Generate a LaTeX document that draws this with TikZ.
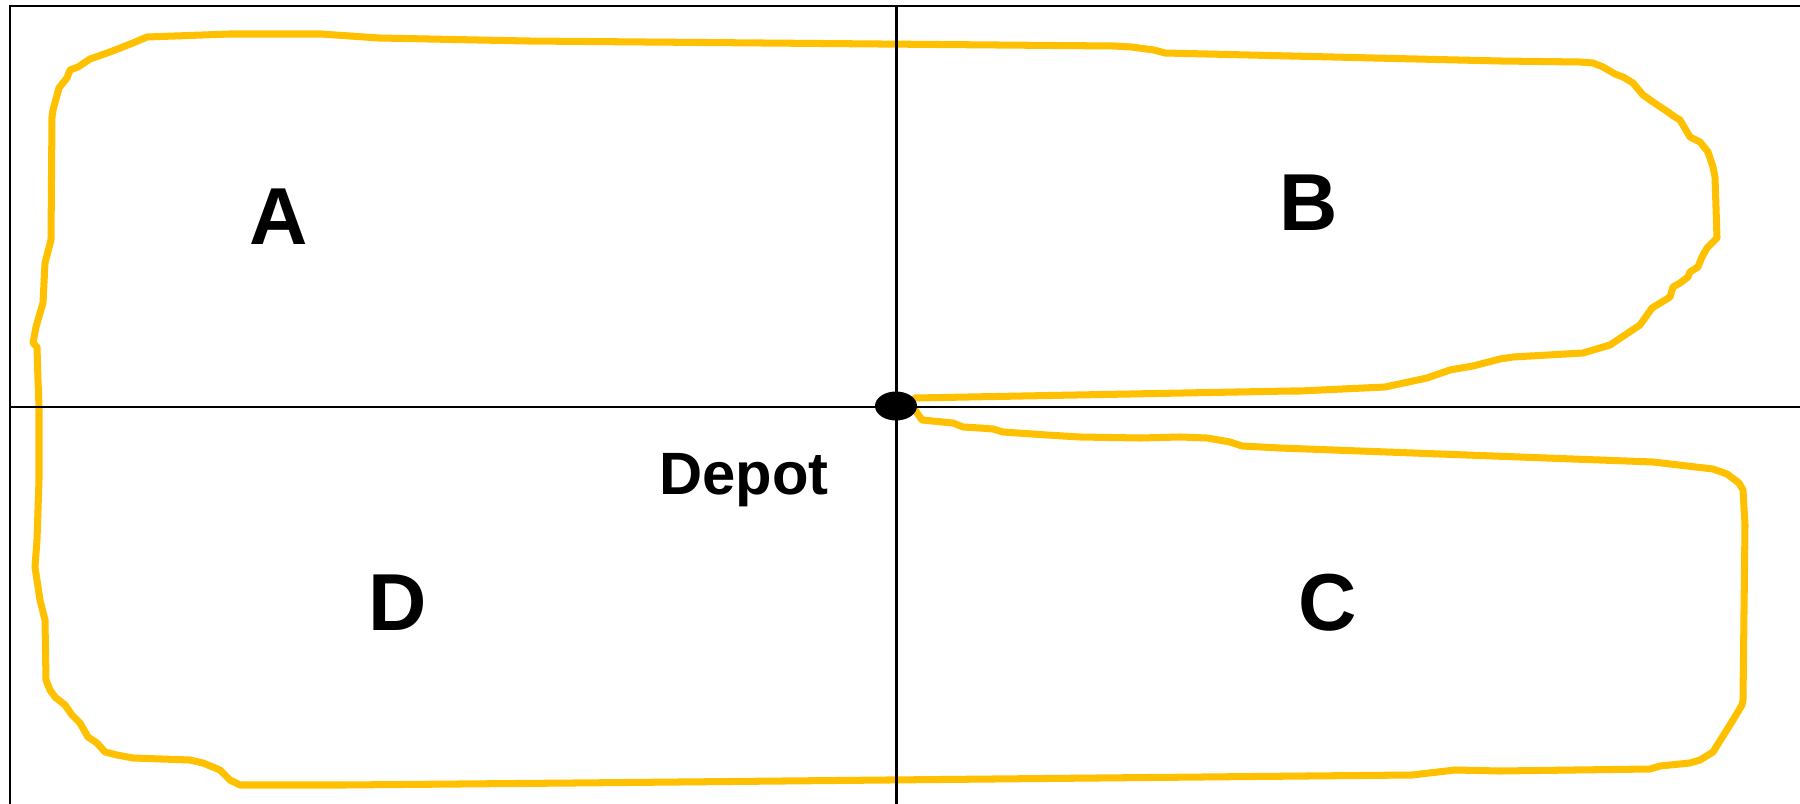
\documentclass[tikz,border=0pt]{standalone}
\usepackage{fontspec}
\setmainfont{Liberation Sans}
\usetikzlibrary{shapes.geometric}
\definecolor{route}{HTML}{FFC000}
\tikzset{
  axis/.style={line width=1.7pt, black},
  tour/.style={line width=4pt, route, line join=round, line cap=round},
  zone/.style={font=\fontsize{46}{50}\selectfont\bfseries, inner sep=0pt, anchor=base},
  depotlabel/.style={font=\fontsize{34}{38}\selectfont\bfseries, inner sep=0pt, anchor=base},
  depotmark/.style={ellipse, fill=black, inner sep=0pt, minimum width=42*0.02cm, minimum height=29*0.02cm}
}
\begin{document}
\begin{tikzpicture}[x=0.02cm, y=-0.02cm]
\useasboundingbox (0,0) rectangle (1800,804);

% frame and quadrant axes
\coordinate (tl) at (10,6);
\coordinate (tr) at (1800,6);
\coordinate (bl) at (10,804);
\coordinate (hl) at (10,407);
\coordinate (hr) at (1800,407);
\coordinate (vt) at (896,6);
\coordinate (vb) at (896,804);

% vehicle tour around the four zones
\draw[tour] (915,398) -- (1291,391) -- (1300,391) -- (1385,387) -- (1427,378)
  -- (1450,370) -- (1473,366) -- (1500,359) -- (1513,357) -- (1583,353)
  -- (1610,345) -- (1640,325) -- (1652,308) -- (1670,297) -- (1673,287)
  -- (1680,283) -- (1688,277) -- (1690,272) -- (1698,267) -- (1702,257)
  -- (1707,248) -- (1717,238) -- (1715,177) -- (1713,167) -- (1708,152)
  -- (1700,142) -- (1690,137) -- (1680,120) -- (1675,117) -- (1665,110)
  -- (1653,102) -- (1643,95) -- (1633,83) -- (1623,77) -- (1615,74)
  -- (1603,67) -- (1593,63) -- (1580,62) -- (1500,61) -- (1165,53)
  -- (1154,50) -- (1131,47) -- (1114,46) -- (528,41) -- (379,38)
  -- (321,34) -- (230,34) -- (147,37) -- (133,43) -- (110,52)
  -- (90,59) -- (78,67) -- (70,70) -- (67,78) -- (59,88)
  -- (53,110) -- (52,117) -- (51,240) -- (45,263) -- (43,303)
  -- (38,320) -- (36,327) -- (33,343) -- (37,347) -- (38,380)
  -- (39,407) -- (39,480) -- (37,540) -- (35,567) -- (40,600)
  -- (45,620) -- (46,680) -- (50,690) -- (55,697) -- (65,705)
  -- (72,715) -- (80,723) -- (88,737) -- (97,743) -- (105,752)
  -- (117,755) -- (133,758) -- (190,760) -- (203,763) -- (220,770)
  -- (230,780) -- (240,785) -- (344,785) -- (574,783) -- (1412,775)
  -- (1455,770) -- (1500,771) -- (1650,769) -- (1660,766) -- (1690,763)
  -- (1700,760) -- (1713,752) -- (1733,720) -- (1742,705) -- (1743,700)
  -- (1745,525) -- (1743,490) -- (1739,483) -- (1727,474) -- (1713,469)
  -- (1653,462) -- (1280,448) -- (1242,446) -- (1230,442) -- (1207,438)
  -- (1180,437) -- (1140,438) -- (1080,437) -- (1047,435) -- (1003,432)
  -- (993,429) -- (980,428) -- (963,427) -- (953,423) -- (922,420)
  -- (915,410);

\draw[axis] (bl) -- (tl) -- (tr);
\draw[axis] (hl) -- (hr);
\draw[axis] (vt) -- (vb);

% depot
\node[depotmark] (depot) at (896,406) {};

% zone labels
\node[zone] (zoneA) at (279,245) {A};
\node[zone] (zoneB) at (1309,231) {B};
\node[zone] (zoneC) at (1328,630) {C};
\node[zone] (zoneD) at (398,630) {D};
\node[depotlabel] (depotname) at (744,494) {Depot};
\end{tikzpicture}
\end{document}
